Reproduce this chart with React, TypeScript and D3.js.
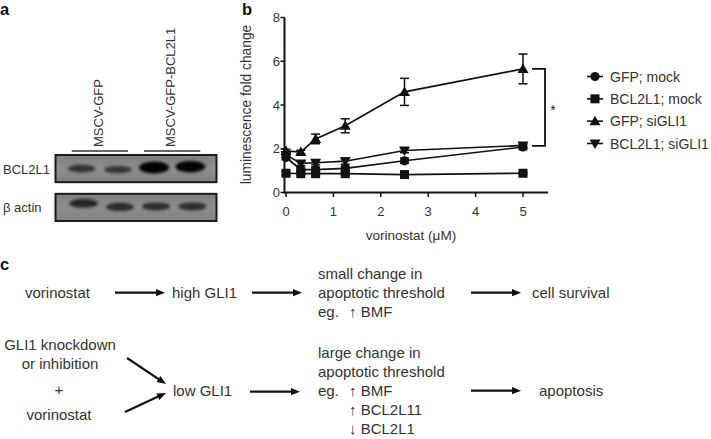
import React from 'react';
import * as d3 from 'd3';

// ---------- Panel b data ----------
const concentrations = [0, 0.3125, 0.625, 1.25, 2.5, 5];
const xTicks = [0, 1, 2, 3, 4, 5];
const yTicks = [0, 2, 4, 6, 8];
const seriesNames = ['GFP; mock', 'BCL2L1; mock', 'GFP; siGLI1', 'BCL2L1; siGLI1'];
const seriesShapes = ['circle', 'square', 'triangle', 'triangleDown'];
const gfpMock = [1.6, 1.05, 1.05, 1.1, 1.45, 2.08];
const gfpMockErr = [0.1, 0.08, 0.1, 0.1, 0.12, 0.12];
const bclMock = [0.88, 0.86, 0.86, 0.86, 0.82, 0.88];
const bclMockErr = [0.08, 0.08, 0.08, 0.08, 0.05, 0.05];
const gfpSi = [1.9, 1.85, 2.45, 3.05, 4.6, 5.65];
const gfpSiErr = [0.08, 0.08, 0.22, 0.32, 0.62, 0.68];
const bclSi = [1.72, 1.33, 1.36, 1.43, 1.92, 2.15];
const bclSiErr = [0.1, 0.1, 0.1, 0.14, 0.1, 0.12];
const xTitle = 'vorinostat (μM)';
const yTitle = 'luminescence fold change';
const bracketTop = 5.65;
const bracketBottom = 2.13;

// ---------- Panel a data ----------
const laneGroups = ['MSCV-GFP', 'MSCV-GFP-BCL2L1'];
const lanes = [0, 1, 2, 3];
const blotRows = ['BCL2L1', 'β actin'];
const bcl2l1Bands = [0.45, 0.42, 1.0, 0.95];
const actinBands = [0.6, 0.55, 0.5, 0.5];

// ---------- Panel c data ----------
const topChain = ['vorinostat', 'high GLI1'];
const topEffect = ['small change in', 'apoptotic threshold'];
const topMarkers = ['↑ BMF'];
const topOutcome = 'cell survival';
const bottomInputs = ['GLI1 knockdown', 'or inhibition', '+', 'vorinostat'];
const bottomMid = 'low GLI1';
const bottomEffect = ['large change in', 'apoptotic threshold'];
const bottomMarkers = ['↑ BMF', '↑ BCL2L11', '↓ BCL2L1'];
const bottomOutcome = 'apoptosis';

const FONT = "'Liberation Sans', Arial, Helvetica, sans-serif";
const TEXT = '#333';

function Marker({ shape, x, y }: { shape: string; x: number; y: number }) {
  const s = 5;
  if (shape === 'circle') return <circle cx={x} cy={y} r={4.6} fill="#111" />;
  if (shape === 'square') return <rect x={x - 4.5} y={y - 4.5} width={9} height={9} fill="#111" />;
  if (shape === 'triangle')
    return <path d={`M${x},${y - s - 0.5} L${x + s + 0.5},${y + s - 1} L${x - s - 0.5},${y + s - 1} Z`} fill="#111" />;
  return <path d={`M${x},${y + s + 0.5} L${x + s + 0.5},${y - s + 1} L${x - s - 0.5},${y - s + 1} Z`} fill="#111" />;
}

function PanelB() {
  const x = d3.scaleLinear().domain([0, 5]).range([286, 523]);
  const y = d3.scaleLinear().domain([0, 8]).range([192.5, 17.5]);
  const series = [
    { v: gfpMock, e: gfpMockErr },
    { v: bclMock, e: bclMockErr },
    { v: gfpSi, e: gfpSiErr },
    { v: bclSi, e: bclSiErr },
  ];
  const line = d3
    .line<number>()
    .x((_, i) => x(concentrations[i]))
    .y((d) => y(d));
  const axisX0 = x(0) - 1.5;
  const axisXEnd = x(5.53);
  const legendY = d3.scalePoint<string>().domain(seriesNames).range([76.5, 143.5]);
  return (
    <g fontFamily={FONT}>
      {/* axes */}
      <line x1={axisX0} x2={axisX0} y1={y(8)} y2={y(0) + 1} stroke="#111" strokeWidth={2} />
      <line x1={axisX0} x2={axisXEnd} y1={y(0)} y2={y(0)} stroke="#111" strokeWidth={2} />
      {yTicks.map((t) => (
        <g key={'yt' + t}>
          <line x1={axisX0 - 4} x2={axisX0} y1={y(t)} y2={y(t)} stroke="#111" strokeWidth={1.5} />
          <text x={280} y={y(t) + 4.5} textAnchor="end" fontSize={13} fill={TEXT}>
            {t}
          </text>
        </g>
      ))}
      {xTicks.map((t) => (
        <g key={'xt' + t}>
          <line x1={x(t)} x2={x(t)} y1={y(0)} y2={y(0) + 4.5} stroke="#111" strokeWidth={1.5} />
          <text x={x(t)} y={216} textAnchor="middle" fontSize={13} fill={TEXT}>
            {t}
          </text>
        </g>
      ))}
      <text x={411} y={240} textAnchor="middle" fontSize={13.5} fill={TEXT}>
        {xTitle}
      </text>
      <text
        transform={`translate(251,104.5) rotate(-90)`}
        textAnchor="middle"
        fontSize={13.8}
        fill={TEXT}
      >
        {yTitle}
      </text>
      {/* series */}
      {series.map((s, si) => (
        <g key={'s' + si}>
          <path d={line(s.v) || ''} fill="none" stroke="#111" strokeWidth={1.7} />
          {s.v.map((v, i) => {
            const cx = x(concentrations[i]);
            const hi = y(v + s.e[i]);
            const lo = y(v - s.e[i]);
            return (
              <g key={i}>
                <line x1={cx} x2={cx} y1={hi} y2={lo} stroke="#111" strokeWidth={1.5} />
                <line x1={cx - 4.5} x2={cx + 4.5} y1={hi} y2={hi} stroke="#111" strokeWidth={1.5} />
                <line x1={cx - 4.5} x2={cx + 4.5} y1={lo} y2={lo} stroke="#111" strokeWidth={1.5} />
                <Marker shape={seriesShapes[si]} x={cx} y={y(v)} />
              </g>
            );
          })}
        </g>
      ))}
      {/* significance bracket */}
      <path
        d={`M532,${y(bracketTop)} H545 V${y(bracketBottom)} H532`}
        fill="none"
        stroke="#111"
        strokeWidth={1.8}
      />
      <text x={553} y={y((bracketTop + bracketBottom) / 2) + 8} textAnchor="middle" fontSize={14} fill="#222">
        *
      </text>
      {/* legend */}
      {seriesNames.map((n, i) => {
        const ly = legendY(n) as number;
        return (
          <g key={'lg' + n}>
            <line x1={587} x2={603} y1={ly} y2={ly} stroke="#111" strokeWidth={1.6} />
            <Marker shape={seriesShapes[i]} x={595} y={ly} />
            <text x={610} y={ly + 5} fontSize={14} fill={TEXT}>
              {n}
            </text>
          </g>
        );
      })}
    </g>
  );
}

function PanelA() {
  const lane = d3.scaleBand<number>().domain(lanes).range([60, 212]).padding(0.2);
  const cx = (l: number) => (lane(l) as number) + lane.bandwidth() / 2;
  const rowY = d3.scaleBand<string>().domain(blotRows).range([155, 221]).paddingInner(0.3);
  const bands = [bcl2l1Bands, actinBands];
  const bandOffsets = [
    [1, 2, 0, -1],
    [-3, 0.5, 0, 0],
  ];
  return (
    <g fontFamily={FONT}>
      <defs>
        <filter id="blur" x="-50%" y="-100%" width="200%" height="300%">
          <feGaussianBlur stdDeviation="1.6" />
        </filter>
        <linearGradient id="blotbg" x1="0" x2="0" y1="0" y2="1">
          <stop offset="0" stopColor="#7f7f7f" />
          <stop offset="0.5" stopColor="#8d8d8d" />
          <stop offset="1" stopColor="#828282" />
        </linearGradient>
      </defs>
      {laneGroups.map((g, gi) => {
        const l0 = cx(gi * 2);
        const l1 = cx(gi * 2 + 1);
        const mid = (l0 + l1) / 2;
        return (
          <g key={g}>
            <line x1={l0 - 10} x2={l1 + 10} y1={151} y2={151} stroke="#333" strokeWidth={1.6} />
            <text
              transform={`translate(${mid + 3},147) rotate(-90)`}
              fontSize={13}
              fill={TEXT}
            >
              {g}
            </text>
          </g>
        );
      })}
      {blotRows.map((r, ri) => {
        const top = rowY(r) as number;
        const h = rowY.bandwidth();
        return (
          <g key={r}>
            <text x={3} y={top + h / 2 + 5} fontSize={13} fill={TEXT}>
              {r}
            </text>
            <rect x={55.5} y={top} width={161} height={h} fill="url(#blotbg)" stroke="#1a1a1a" strokeWidth={2} />
            {bands[ri].map((v, li) => (
              <ellipse
                key={li}
                cx={cx(li) + (ri === 1 ? 2 : 0)}
                cy={top + h / 2 + bandOffsets[ri][li] - 1}
                rx={13 + v * 2}
                ry={2 + v * 4}
                fill="#050505"
                opacity={0.35 + v * 0.65}
                filter="url(#blur)"
              />
            ))}
          </g>
        );
      })}
    </g>
  );
}

function Arrow({ x1, y1, x2, y2 }: { x1: number; y1: number; x2: number; y2: number }) {
  const ang = Math.atan2(y2 - y1, x2 - x1);
  const L = 9;
  const W = 3.6;
  const bx = x2 - L * Math.cos(ang);
  const by = y2 - L * Math.sin(ang);
  const px = -Math.sin(ang) * W;
  const py = Math.cos(ang) * W;
  return (
    <g>
      <line x1={x1} y1={y1} x2={bx + Math.cos(ang)} y2={by + Math.sin(ang)} stroke="#111" strokeWidth={2.2} />
      <path d={`M${x2},${y2} L${bx + px},${by + py} L${bx - px},${by - py} Z`} fill="#111" />
    </g>
  );
}

function PanelC() {
  const fs = 15;
  const lh = 19;
  const base = (c: number) => c + fs * 0.35;
  const topY = 292.7;
  const botY = 390.7;
  const inputYs = [345, 364, 390, 415];
  return (
    <g fontFamily={FONT} fontSize={fs} fill={TEXT}>
      {/* top row */}
      <text x={25} y={base(topY)}>{topChain[0]}</text>
      <Arrow x1={115} y1={topY} x2={165} y2={topY} />
      <text x={172} y={base(topY)}>{topChain[1]}</text>
      <Arrow x1={252} y1={topY} x2={302} y2={topY} />
      {topEffect.map((t, i) => (
        <text key={t} x={318} y={base(topY - lh + i * lh)}>
          {t}
        </text>
      ))}
      <text x={318} y={base(topY + lh)}>eg.</text>
      {topMarkers.map((t, i) => (
        <text key={t} x={349} y={base(topY + lh + i * lh)}>
          {t}
        </text>
      ))}
      <Arrow x1={471} y1={topY} x2={521} y2={topY} />
      <text x={532} y={base(topY)}>{topOutcome}</text>

      {/* bottom row */}
      {bottomInputs.map((t, i) => (
        <text key={t + i} x={i < 2 ? 60 : 59} y={base(inputYs[i])} textAnchor="middle">
          {t}
        </text>
      ))}
      <Arrow x1={127} y1={358} x2={166} y2={384} />
      <Arrow x1={125} y1={412} x2={166} y2={393} />
      <text x={173} y={base(botY)}>{bottomMid}</text>
      <Arrow x1={250} y1={botY + 1} x2={300} y2={botY + 1} />
      {bottomEffect.map((t, i) => (
        <text key={t} x={318} y={base(botY - 2 * lh + i * lh)}>
          {t}
        </text>
      ))}
      <text x={318} y={base(botY)}>eg.</text>
      {bottomMarkers.map((t, i) => (
        <text key={t} x={349} y={base(botY + i * lh)}>
          {t}
        </text>
      ))}
      <Arrow x1={471} y1={botY} x2={521} y2={botY} />
      <text x={539} y={base(botY)}>{bottomOutcome}</text>
    </g>
  );
}

export default function App() {
  return (
    <svg
      width={711}
      height={439}
      viewBox="0 0 711 439"
      style={{ position: 'absolute', left: 0, top: 0, background: '#fff' }}
    >
      <rect width={711} height={439} fill="#fff" />
      <g fontFamily={FONT} fontWeight="bold" fontSize={16.5} fill="#111">
        <text x={0} y={15}>a</text>
        <text x={242} y={15}>b</text>
        <text x={0} y={270}>c</text>
      </g>
      <PanelA />
      <PanelB />
      <PanelC />
    </svg>
  );
}
